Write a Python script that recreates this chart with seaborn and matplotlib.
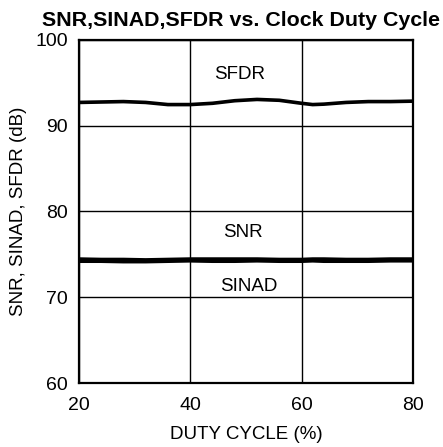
import numpy as np
import pandas as pd
import matplotlib.pyplot as plt
import seaborn as sns

# values
duty = [20, 24, 28, 32, 36, 40, 44, 48, 52, 56, 60, 62, 64, 68, 72, 76, 80]
sfdr = [92.7, 92.75, 92.8, 92.7, 92.45, 92.45, 92.6, 92.9, 93.05, 92.95, 92.6, 92.45, 92.5, 92.7, 92.8, 92.8, 92.85]
snr = [74.45, 74.4, 74.4, 74.35, 74.4, 74.45, 74.45, 74.45, 74.45, 74.4, 74.4, 74.45, 74.45, 74.4, 74.4, 74.45, 74.45]
sinad = [74.2, 74.2, 74.15, 74.15, 74.2, 74.25, 74.2, 74.2, 74.25, 74.2, 74.2, 74.25, 74.2, 74.2, 74.2, 74.25, 74.25]

df = pd.DataFrame({"duty": duty * 3,
                   "db": sfdr + snr + sinad,
                   "curve": ["SFDR"] * len(duty) + ["SNR"] * len(duty) + ["SINAD"] * len(duty)})

sns.set_style("white")
plt.rcParams["font.family"] = ["Liberation Sans", "DejaVu Sans"]
plt.rcParams["text.color"] = "black"
plt.rcParams["axes.labelcolor"] = "black"

fig = plt.figure(figsize=(4.43, 4.47), dpi=100)
ax = fig.add_axes([0.178, 0.143, 0.754, 0.768])

sns.lineplot(data=df, x="duty", y="db", units="curve", estimator=None,
             color="black", linewidth=2.6, ax=ax, legend=False)

ax.set_xlim(20, 80)
ax.set_ylim(60, 100)
ax.set_xticks([20, 40, 60, 80])
ax.set_yticks([60, 70, 80, 90, 100])
ax.grid(True, color="black", linewidth=1.0)
for s in ax.spines.values():
    s.set_color("black")
    s.set_linewidth(1.6)
ax.tick_params(labelsize=14, length=0, colors="black")
ax.tick_params(axis="y", pad=8)
ax.tick_params(axis="x", pad=10)

ax.text(48.9, 95.9, "SFDR", ha="center", va="center", fontsize=13.5)
ax.text(49.5, 77.6, "SNR", ha="center", va="center", fontsize=13.5)
ax.text(50.5, 71.2, "SINAD", ha="center", va="center", fontsize=13.5)

ax.set_xlabel("DUTY CYCLE (%)", fontsize=13.5, labelpad=9)
ax.set_ylabel("SNR, SINAD, SFDR (dB)", fontsize=13.5, labelpad=6)
ax.set_title("SNR,SINAD,SFDR vs. Clock Duty Cycle", fontsize=15.4,
             fontweight="bold", pad=10, x=0.485)

fig.savefig("out.png", dpi=100)
